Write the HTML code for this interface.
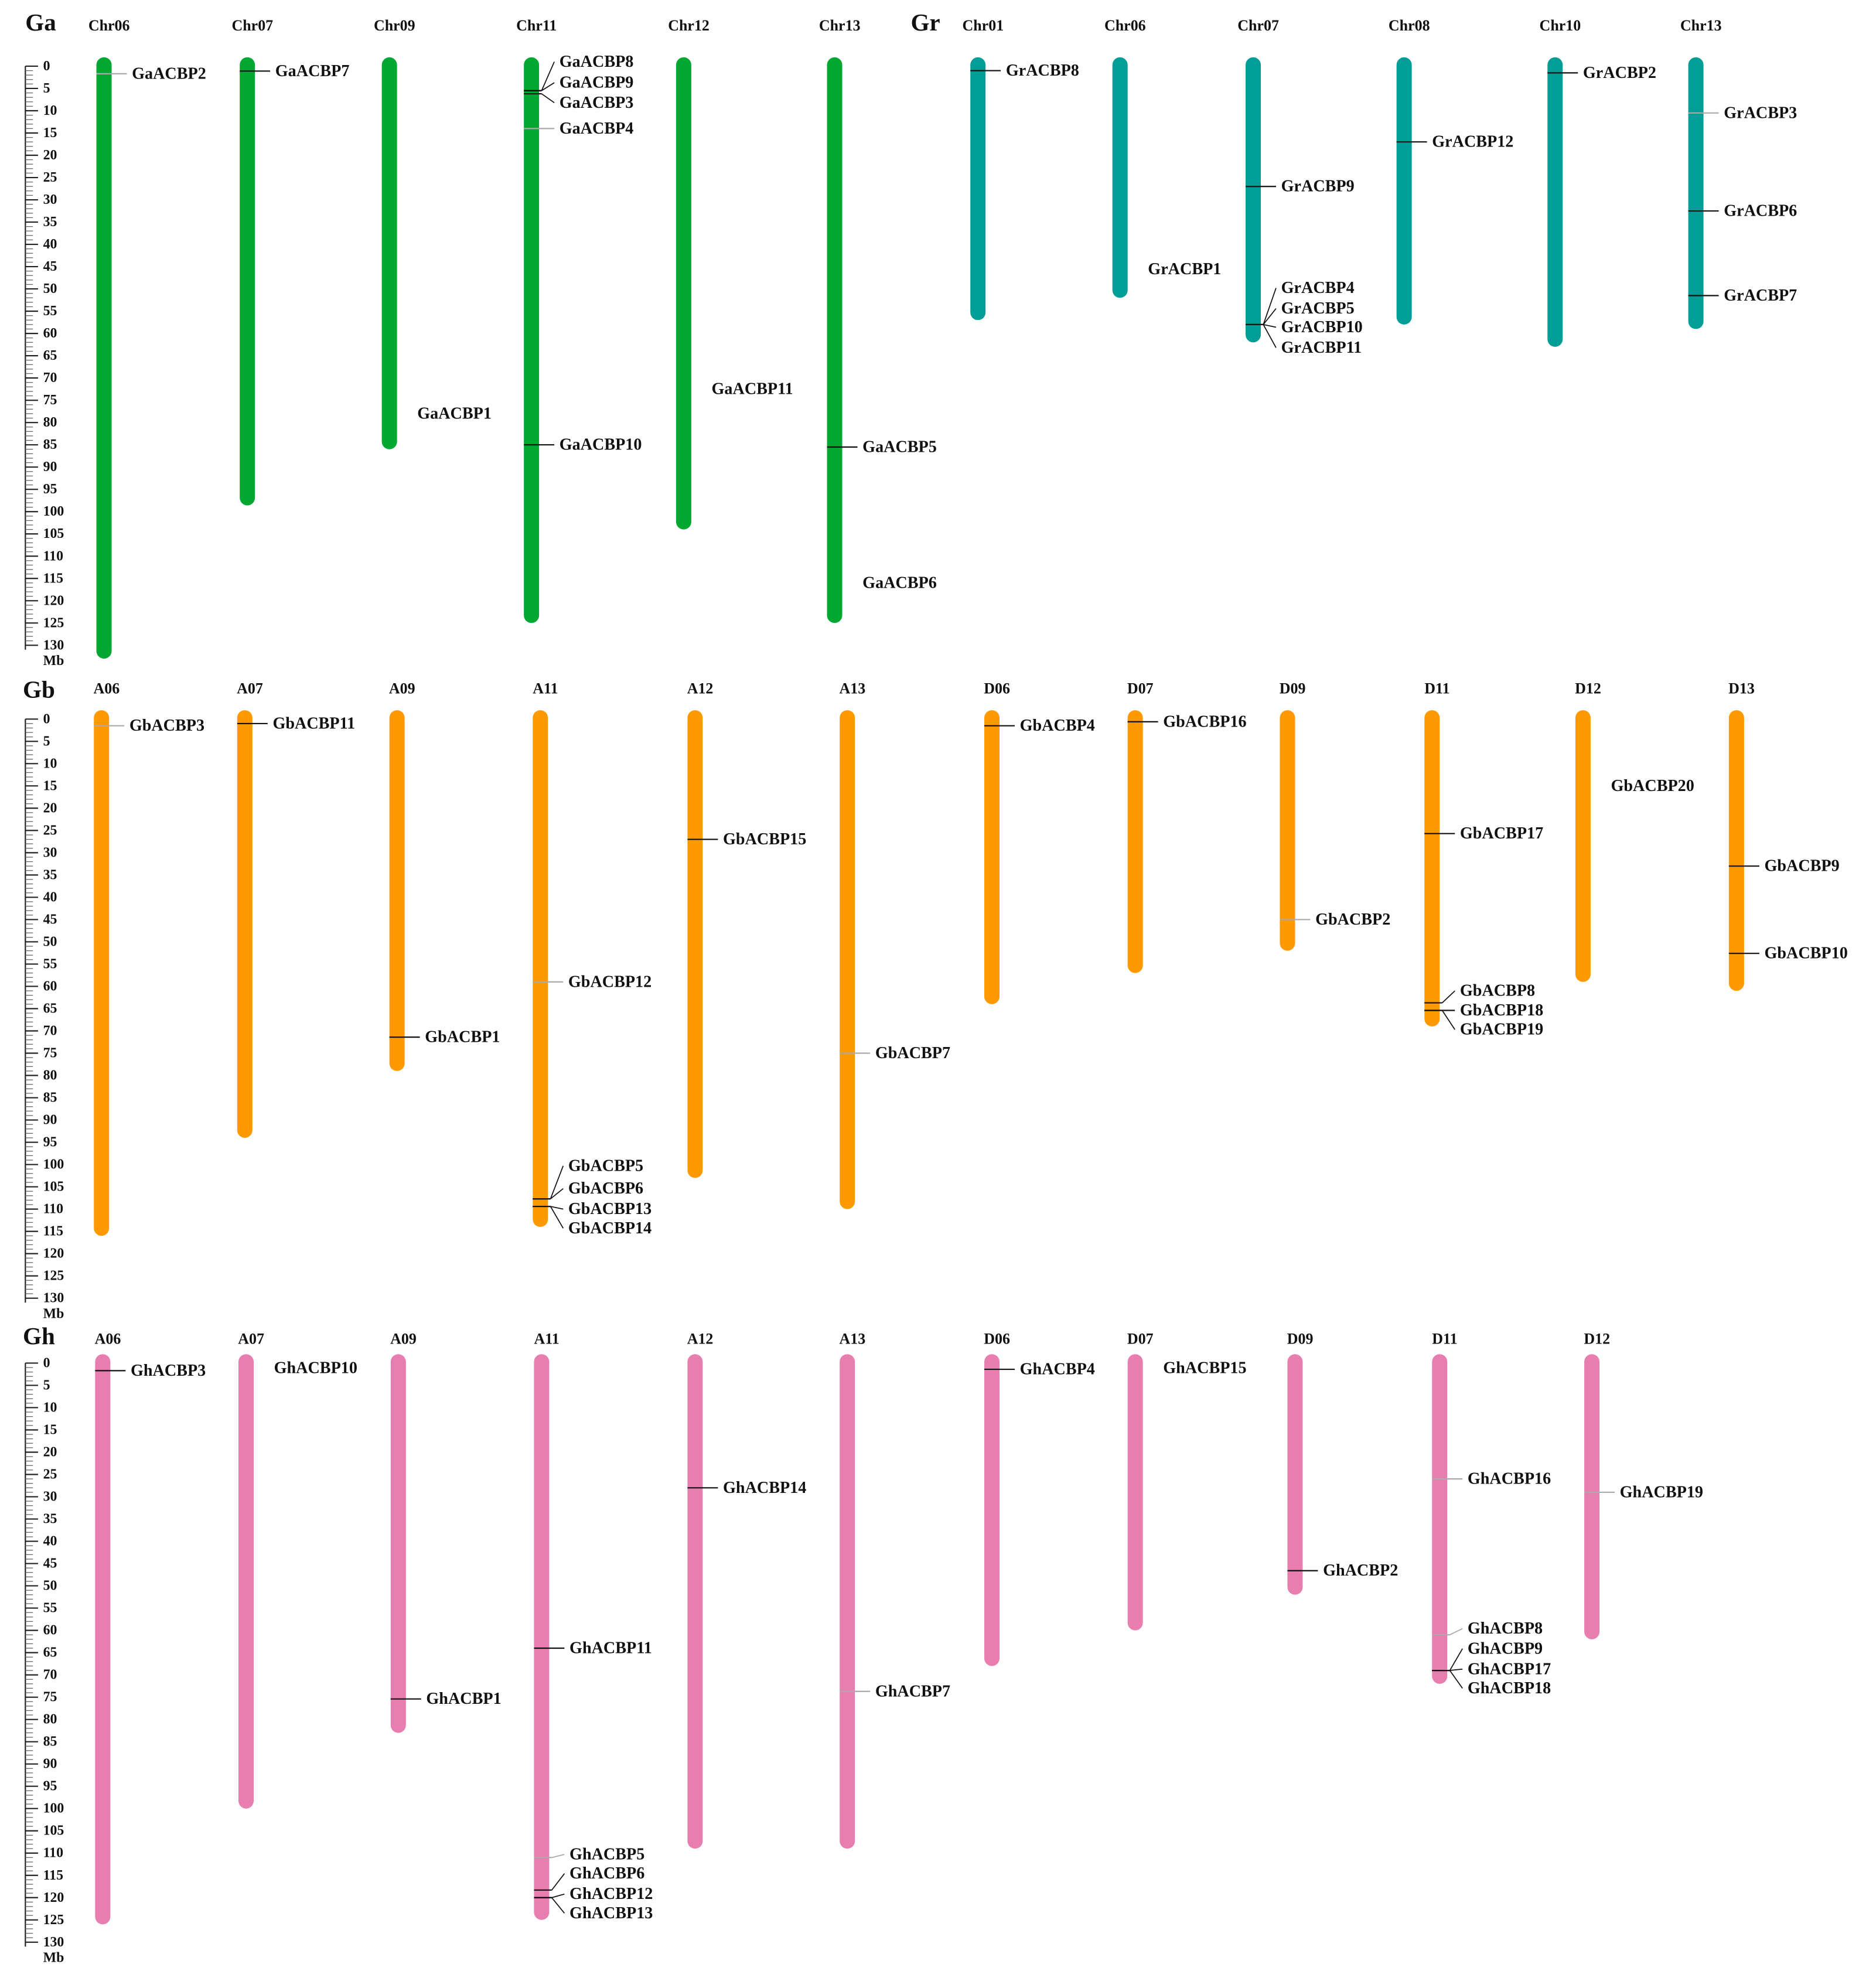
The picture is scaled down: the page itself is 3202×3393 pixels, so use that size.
<!DOCTYPE html>
<html><head><meta charset="utf-8"><style>
html,body{margin:0;padding:0;background:#fff}
svg{display:block}
text{font-family:"Liberation Serif",serif;font-weight:bold;fill:#111}
</style></head><body>
<svg id="chart" width="3202" height="3393" viewBox="0 0 1479 1562" preserveAspectRatio="none" xmlns="http://www.w3.org/2000/svg"></svg>
<script>
// ---- data ----
const gaChroms = ["Chr06","Chr07","Chr09","Chr11","Chr12","Chr13"];
const gaLengths = [133,98.6,86,125,104,125];
const grChroms = ["Chr01","Chr06","Chr07","Chr08","Chr10","Chr13"];
const grLengths = [57,52,62,58,63,59];
const gbChroms = ["A06","A07","A09","A11","A12","A13","D06","D07","D09","D11","D12","D13"];
const gbLengths = [116,94,79,114,103,110,64,57,52,69,59,61];
const ghChroms = ["A06","A07","A09","A11","A12","A13","D06","D07","D09","D11","D12"];
const ghLengths = [126,100,83,125,109,109,68,60,52,72,62];
// genes: [chromIndex, positionMb, label, labelMb, style] style: 'k' black line, 'g' gray line, 'n' no line
const gaGenes = [
 [0,1.7,"GaACBP2",1.7,"g"],[1,1.1,"GaACBP7",1.1,"k"],[2,78,"GaACBP1",78,"n"],
 [3,5.5,"GaACBP8",-1,"k"],[3,5.5,"GaACBP9",3.7,"k"],[3,6.2,"GaACBP3",8.2,"k"],[3,14,"GaACBP4",14,"g"],
 [3,85,"GaACBP10",85,"k"],[4,72.5,"GaACBP11",72.5,"n"],[5,85.5,"GaACBP5",85.5,"k"],[5,116,"GaACBP6",116,"n"]];
const grGenes = [
 [0,1,"GrACBP8",1,"k"],[1,45.6,"GrACBP1",45.6,"n"],[2,27,"GrACBP9",27,"k"],
 [2,58,"GrACBP4",49.8,"k"],[2,58,"GrACBP5",54.4,"k"],[2,58,"GrACBP10",58.6,"k"],[2,58,"GrACBP11",63.2,"k"],
 [3,17,"GrACBP12",17,"k"],[4,1.5,"GrACBP2",1.5,"k"],[5,10.5,"GrACBP3",10.5,"g"],[5,32.5,"GrACBP6",32.5,"k"],[5,51.5,"GrACBP7",51.5,"k"]];
const gbGenes = [
 [0,1.5,"GbACBP3",1.5,"g"],[1,1,"GbACBP11",1,"k"],[2,71.4,"GbACBP1",71.4,"k"],[3,59,"GbACBP12",59,"g"],
 [3,107.7,"GbACBP5",100.3,"k"],[3,107.7,"GbACBP6",105.4,"k"],[3,109.4,"GbACBP13",110,"k"],[3,109.4,"GbACBP14",114.3,"k"],
 [4,27,"GbACBP15",27,"k"],[5,75,"GbACBP7",75,"g"],[6,1.5,"GbACBP4",1.5,"k"],[7,0.6,"GbACBP16",0.6,"k"],
 [8,45,"GbACBP2",45,"g"],[9,25.7,"GbACBP17",25.7,"k"],
 [9,63.7,"GbACBP8",61,"k"],[9,65.4,"GbACBP18",65.4,"k"],[9,65.4,"GbACBP19",69.7,"k"],
 [10,15,"GbACBP20",15,"n"],[11,33,"GbACBP9",33,"k"],[11,52.6,"GbACBP10",52.6,"k"]];
const ghGenes = [
 [0,1.7,"GhACBP3",1.7,"k"],[1,1.1,"GhACBP10",1.1,"n"],[2,75.4,"GhACBP1",75.4,"k"],[3,64,"GhACBP11",64,"k"],
 [3,111,"GhACBP5",110.3,"g"],[3,118.3,"GhACBP6",114.6,"k"],[3,120,"GhACBP12",119.2,"k"],[3,120,"GhACBP13",123.5,"k"],
 [4,28,"GhACBP14",28,"k"],[5,73.7,"GhACBP7",73.7,"g"],[6,1.4,"GhACBP4",1.4,"k"],[7,1.1,"GhACBP15",1.1,"n"],
 [8,46.6,"GhACBP2",46.6,"k"],[9,26,"GhACBP16",26,"g"],
 [9,61,"GhACBP8",59.6,"g"],[9,69,"GhACBP9",64.1,"k"],[9,69,"GhACBP17",68.7,"k"],[9,69,"GhACBP18",73,"k"],
 [10,29,"GhACBP19",29,"g"]];

// ---- layout ----
const svg = document.getElementById('chart');
const NS = "http://www.w3.org/2000/svg";
const MB = 3.5;
function el(tag, attrs, parent){const e=document.createElementNS(NS,tag);for(const k in attrs)e.setAttribute(k,attrs[k]);(parent||svg).appendChild(e);return e;}

const panels = [
 {name:"Ga",chroms:gaChroms,lens:gaLengths,genes:gaGenes,xs:[82,195,307,419,539,658],y0:52,color:"#00a832",nameY:20,labelX:20,labelY:24,ruler:true},
 {name:"Gr",chroms:grChroms,lens:grLengths,genes:grGenes,xs:[771,883,988,1107,1226,1337],y0:52,color:"#009e96",nameY:20,labelX:718,labelY:24,ruler:false},
 {name:"Gb",chroms:gbChroms,lens:gbLengths,genes:gbGenes,xs:[80,193,313,426,548,668,782,895,1015,1129,1248,1369],y0:565,color:"#ff9900",nameY:541,labelX:18,labelY:548,ruler:true},
 {name:"Gh",chroms:ghChroms,lens:ghLengths,genes:ghGenes,xs:[81,194,314,427,548,668,782,895,1021,1135,1255],y0:1071,color:"#e87daf",nameY:1052,labelX:18,labelY:1056,ruler:true}
];

panels.forEach(p=>{
  const g = el('g',{});
  
  
  const t = el('text',{x:p.labelX,y:p.labelY,'font-size':19},g); t.textContent=p.name;
  
  
  const y = mb => p.y0 + mb*MB;
  if(p.ruler){
    const r = el('g',{},g);
    
    
    el('line',{x1:20,y1:y(0),x2:20,y2:y(131),stroke:'#222','stroke-width':1},r);
    for(let m=0;m<=130;m++){
      const maj = m%5===0;
      el('line',{x1:20,y1:y(m),x2:maj?30:26,y2:y(m),stroke:maj?'#222':'#666','stroke-width':maj?1:0.6},r);
      if(maj){const tt=el('text',{x:34,y:y(m),'font-size':11,'dominant-baseline':'central'},r);tt.textContent=m;
        
        }
    }
    const mbT = el('text',{x:34,y:y(133.5),'font-size':11,'dominant-baseline':'central'},r); mbT.textContent="Mb";
    
    
  }
  p.chroms.forEach((c,i)=>{
    const x = p.xs[i];
    const n = el('text',{x:x+4,y:p.nameY,'font-size':12,'text-anchor':'middle','dominant-baseline':'central'},g); n.textContent=c;
    
    
    const top = y(0)-7, h = p.lens[i]*MB+7;
    const rc = el('rect',{x:x-6,y:top,width:12,height:h,rx:6,ry:6,fill:p.color},g);
    
    
  });
  p.genes.forEach(gn=>{
    const [ci,pos,label,lpos,st] = gn;
    const x = p.xs[ci], gy = y(pos), ly = y(lpos);
    const col = st==='g' ? '#aaa' : '#111';
    if(st!=='n'){
      if(Math.abs(ly-gy)<0.5){
        const l=el('line',{x1:x-6,y1:gy,x2:x+18,y2:gy,stroke:col,'stroke-width':1},g);
        
        
      } else {
        const l=el('line',{x1:x-6,y1:gy,x2:x+8,y2:gy,stroke:col,'stroke-width':1},g);
        
        
        const cn=el('line',{x1:x+8,y1:gy,x2:x+18,y2:ly,stroke:col,'stroke-width':0.8},g);
        
        
      }
    }
    const tx = el('text',{x:x+22,y:ly,'font-size':13,'dominant-baseline':'central'},g); tx.textContent=label;
    
    
  });
});
</script>
</body></html>
